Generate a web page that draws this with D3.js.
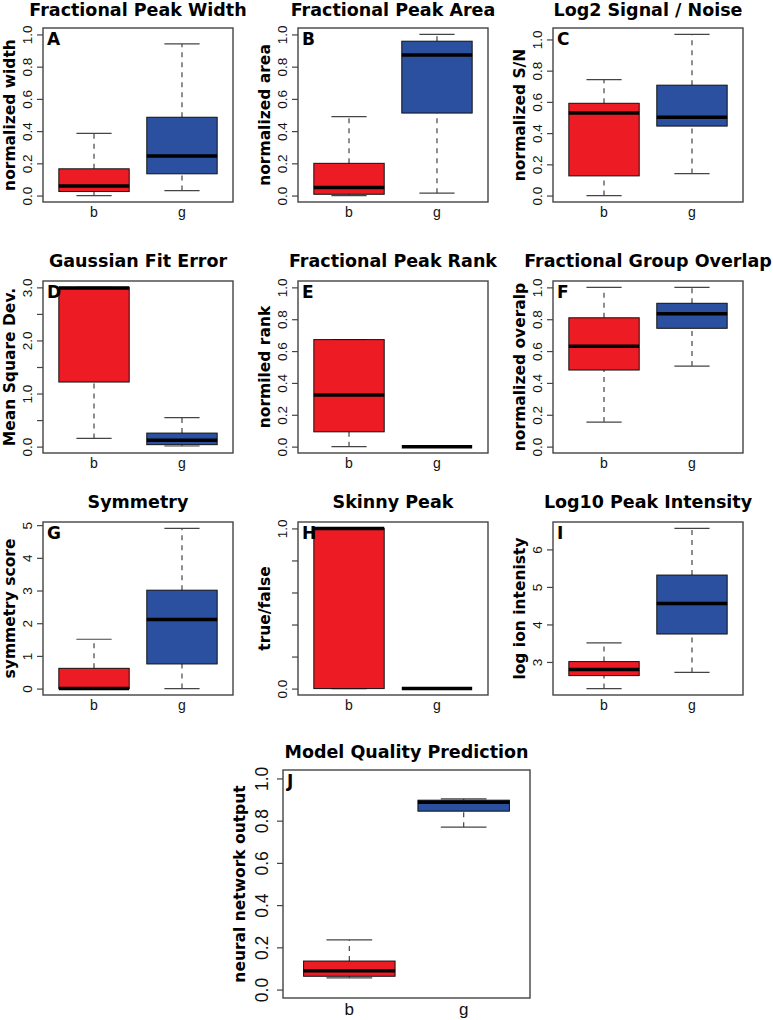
<!DOCTYPE html>
<html>
<head>
<meta charset="utf-8">
<script src="https://cdn.jsdelivr.net/npm/d3@7"></script>
<style>
body { margin: 0; background: #fff; }
.title, .ylab, .letter { font-family: "DejaVu Sans", sans-serif; font-weight: bold; fill: #000; }
.tick text, .xlab { font-family: "Liberation Sans", Arial, sans-serif; fill: #111; }
</style>
</head>
<body>
<div id="chart"></div>
<script>
// panel texts
var titles = ["Fractional Peak Width", "Fractional Peak Area", "Log2 Signal / Noise",
              "Gaussian Fit Error", "Fractional Peak Rank", "Fractional Group Overlap",
              "Symmetry", "Skinny Peak", "Log10 Peak Intensity", "Model Quality Prediction"];
var letters = ["A", "B", "C", "D", "E", "F", "G", "H", "I", "J"];
var yLabels = ["normalized width", "normalized area", "normalized S/N",
               "Mean Square Dev.", "normiled rank", "normalized overalp",
               "symmetry score", "true/false", "log ion intenisty", "neural network output"];
var groups = ["b", "g"];

// box stats per panel: [lower whisker, q1, median, q3, upper whisker]
var bStats = [
  [0.00, 0.025, 0.060, 0.166, 0.386],
  [0.00, 0.008, 0.050, 0.200, 0.490],
  [0.00, 0.126, 0.529, 0.591, 0.743],
  [0.155, 1.217, 2.99, 3.00, 3.00],
  [0.00, 0.093, 0.324, 0.672, 0.672],
  [0.154, 0.481, 0.631, 0.809, 1.00],
  [0.00, 0.00, 0.00, 0.62, 1.51],
  [0.00, 0.00, 1.00, 1.00, 1.00],
  [2.29, 2.636, 2.80, 3.01, 3.51],
  [0.055, 0.063, 0.089, 0.135, 0.235]
];
var gStats = [
  [0.031, 0.135, 0.245, 0.486, 0.942],
  [0.015, 0.512, 0.873, 0.958, 1.00],
  [0.141, 0.445, 0.501, 0.707, 1.032],
  [0.012, 0.037, 0.118, 0.255, 0.547],
  [0.00, 0.00, 0.00, 0.00, 0.00],
  [0.506, 0.743, 0.834, 0.900, 1.00],
  [0.00, 0.754, 2.11, 3.01, 4.90],
  [0.00, 0.00, 0.00, 0.00, 0.00],
  [2.72, 3.745, 4.56, 5.316, 6.56],
  [0.769, 0.845, 0.887, 0.897, 0.903]
];
// y limits before R's 4% padding
var yLims = [[0, 1], [0, 1], [0, 1.032], [0, 3], [0, 1], [0, 1], [0, 4.9], [0, 1], [2.29, 6.56], [0, 1]];

var unitTicks = [0, 0.2, 0.4, 0.6, 0.8, 1.0];
var unitLabels = ["0.0", "0.2", "0.4", "0.6", "0.8", "1.0"];
var tickValues = [unitTicks, unitTicks, unitTicks,
                  [0, 0.5, 1, 1.5, 2, 2.5, 3], unitTicks, unitTicks,
                  [0, 1, 2, 3, 4, 5], unitTicks, [3, 4, 5, 6], unitTicks];
var tickLabels = [unitLabels, unitLabels, unitLabels,
                  ["0.0", "", "1.0", "", "2.0", "", "3.0"], unitLabels, unitLabels,
                  ["0", "1", "2", "3", "4", "5"], ["0.0", "", "", "", "", "1.0"],
                  ["3", "4", "5", "6"], unitLabels];

var boxColors = ["#ED1C24", "#2B509F"];

var width = 773, height = 1020;
var svg = d3.select("#chart").append("svg")
    .attr("width", width)
    .attr("height", height);

// grid positions of the panels
var colLeft = [43, 298, 553];
var rowTop = [28, 281, 522];
var rowH = [174, 172, 173];

function layoutFor(i) {
  if (i == 9) {
    return {left: 283, top: 770, w: 247, h: 228, tickX: 21, ylabX: 38, tickFs: 17.5, xFs: 17, xlabDy: 17, titleDy: 12};
  }
  var r = Math.floor(i / 3), c = i % 3;
  return {left: colLeft[c], top: rowTop[r], w: 190, h: rowH[r], tickX: 16, ylabX: 28, tickFs: 13.5, xFs: 14, xlabDy: 15,
          titleDy: r == 0 ? 12 : 14};
}

function drawPanel(i) {
  var L = layoutFor(i);
  var lim = yLims[i], pad = (lim[1] - lim[0]) * 0.04;
  var y = d3.scaleLinear().domain([lim[0] - pad, lim[1] + pad]).range([L.top + L.h, L.top]);
  var x = d3.scaleLinear().domain([0.42, 2.58]).range([L.left, L.left + L.w]);
  var g = svg.append("g");

  // y axis, labels turned like R's las=0
  var ax = g.append("g")
      .attr("transform", "translate(" + L.left + ",0)")
      .call(d3.axisLeft(y).tickValues(tickValues[i]).tickSize(6)
        .tickFormat(function(d, j) { return tickLabels[i][j]; }));
  ax.select(".domain").remove();
  ax.selectAll(".tick line").attr("stroke", "#444").attr("stroke-width", 1.2);
  ax.selectAll(".tick text")
      .attr("x", null).attr("y", null).attr("dy", "0.36em")
      .attr("text-anchor", "middle")
      .attr("transform", "translate(" + (-L.tickX) + ",0) rotate(-90)")
      .style("font-size", L.tickFs + "px");
  ax.attr("font-family", null).attr("font-size", null);

  // boxes
  var stats = [bStats[i], gStats[i]];
  stats.forEach(function(s, k) {
    var cx = x(k + 1), hw = x(1.4) - x(1), cap = x(1.2) - x(1);
    var wg = g.append("g");
    [[s[0], s[1]], [s[3], s[4]]].forEach(function(seg) {
      wg.append("line")
          .attr("x1", cx).attr("x2", cx)
          .attr("y1", y(seg[0])).attr("y2", y(seg[1]))
          .attr("stroke", "#444").attr("stroke-width", 1.2)
          .attr("stroke-dasharray", "5,5");
    });
    [s[0], s[4]].forEach(function(v) {
      wg.append("line")
          .attr("x1", cx - cap).attr("x2", cx + cap)
          .attr("y1", y(v)).attr("y2", y(v))
          .attr("stroke", "#444").attr("stroke-width", 1.2);
    });
    wg.append("rect")
        .attr("x", cx - hw).attr("width", 2 * hw)
        .attr("y", y(s[3])).attr("height", y(s[1]) - y(s[3]))
        .attr("fill", boxColors[k])
        .attr("stroke", "#111").attr("stroke-width", 1);
    wg.append("line")
        .attr("x1", cx - hw).attr("x2", cx + hw)
        .attr("y1", y(s[2])).attr("y2", y(s[2]))
        .attr("stroke", "#000").attr("stroke-width", 3.5);
  });

  // plot frame
  g.append("rect")
      .attr("x", L.left).attr("y", L.top)
      .attr("width", L.w).attr("height", L.h)
      .attr("fill", "none").attr("stroke", "#444").attr("stroke-width", 1.4);

  // x labels
  groups.forEach(function(name, k) {
    g.append("text").attr("class", "xlab")
        .attr("x", x(k + 1)).attr("y", L.top + L.h + L.xlabDy)
        .attr("text-anchor", "middle")
        .style("font-size", L.xFs + "px")
        .text(name);
  });

  g.append("text").attr("class", "title")
      .attr("x", L.left + L.w / 2).attr("y", L.top - L.titleDy)
      .attr("text-anchor", "middle")
      .style("font-size", "17.5px")
      .text(titles[i]);

  g.append("text").attr("class", "ylab")
      .attr("transform", "translate(" + (L.left - L.ylabX) + "," + (L.top + L.h / 2) + ") rotate(-90)")
      .attr("text-anchor", "middle")
      .style("font-size", "15.5px")
      .text(yLabels[i]);

  g.append("text").attr("class", "letter")
      .attr("x", L.left + 4).attr("y", L.top + 17)
      .style("font-size", "17px")
      .text(letters[i]);
}

for (var i = 0; i < titles.length; i++) drawPanel(i);
</script>
</body>
</html>
